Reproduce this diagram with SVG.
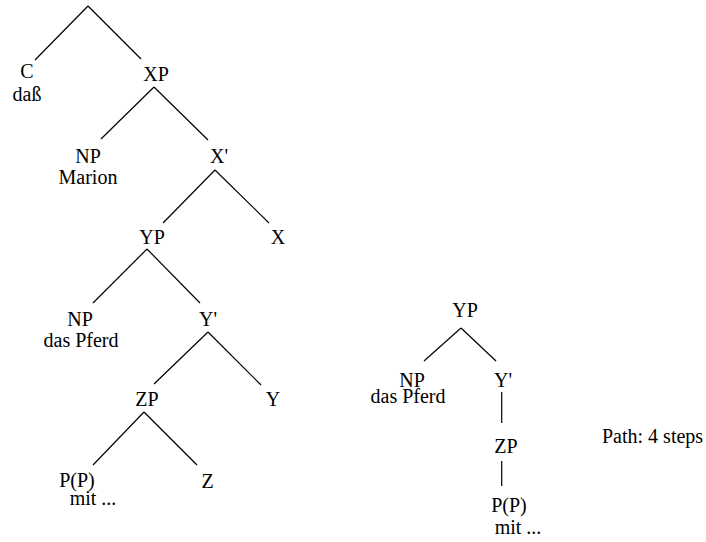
<svg xmlns="http://www.w3.org/2000/svg" width="706" height="542" viewBox="0 0 706 542">
<style>
.e line{stroke:#000;stroke-width:1.2;fill:none}
text{font-family:'Liberation Serif','Times New Roman',serif;font-size:20px;fill:#000;text-anchor:middle}
</style>
<rect width="706" height="542" fill="#fff"/>
<g class="e" id="connectors">
<line x1="88" y1="6" x2="35" y2="60"/>
<line x1="88" y1="6" x2="141" y2="59"/>
<line x1="154" y1="87" x2="101" y2="139"/>
<line x1="154" y1="87" x2="208" y2="140"/>
<line x1="215" y1="170" x2="163" y2="223"/>
<line x1="215" y1="170" x2="269" y2="223"/>
<line x1="147" y1="249" x2="93" y2="303"/>
<line x1="147" y1="249" x2="200" y2="303"/>
<line x1="208" y1="332" x2="154" y2="384"/>
<line x1="208" y1="332" x2="261" y2="385"/>
<line x1="144" y1="412" x2="93" y2="465"/>
<line x1="144" y1="412" x2="197" y2="465"/>
<line x1="461" y1="328" x2="424" y2="361"/>
<line x1="461" y1="328" x2="496" y2="361"/>
<line x1="501.7" y1="392" x2="501.7" y2="423"/>
<line x1="501.7" y1="461" x2="501.7" y2="486"/>
</g>
<g id="C"><text x="27" y="78">C</text><text x="27" y="101">daß</text></g>
<g id="XP"><text x="156" y="81">XP</text></g>
<g id="NP1"><text x="88" y="163">NP</text><text x="88" y="184">Marion</text></g>
<g id="Xbar"><text x="219" y="163">X'</text></g>
<g id="YP"><text x="152" y="244">YP</text></g>
<g id="X"><text x="278" y="244">X</text></g>
<g id="NP2"><text x="80" y="326">NP</text><text x="81" y="347">das Pferd</text></g>
<g id="Ybar"><text x="208" y="326">Y'</text></g>
<g id="ZP"><text x="147" y="406">ZP</text></g>
<g id="Y"><text x="273" y="406">Y</text></g>
<g id="PP"><text x="77" y="487">P(P)</text><text x="93" y="505">mit ...</text></g>
<g id="Z"><text x="207.5" y="488">Z</text></g>
<g id="YP2"><text x="465" y="317">YP</text></g>
<g id="NP3"><text x="412" y="387">NP</text><text x="408" y="403">das Pferd</text></g>
<g id="Ybar2"><text x="503" y="387">Y'</text></g>
<g id="ZP2"><text x="506" y="453">ZP</text></g>
<g id="PP2"><text x="509" y="512">P(P)</text><text x="518" y="534">mit ...</text></g>
<g id="path"><text x="602" y="443" style="text-anchor:start">Path: 4 steps</text></g>
</svg>
